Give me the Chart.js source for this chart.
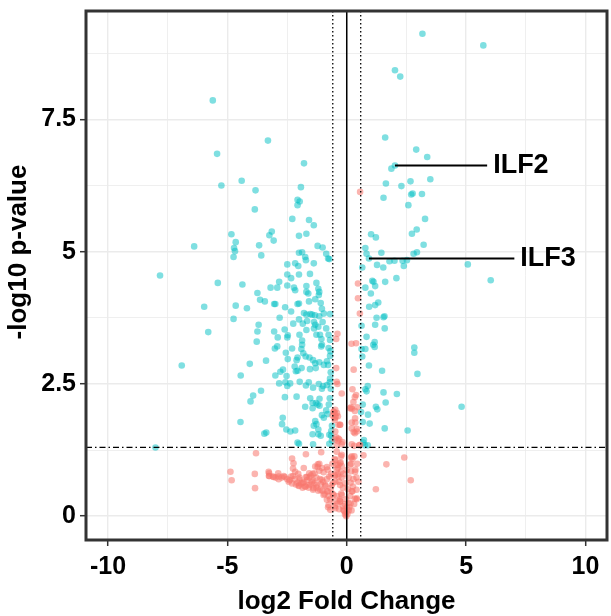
<!DOCTYPE html>
<html>
<head>
<meta charset="utf-8">
<script src="https://cdn.jsdelivr.net/npm/chart.js@4/dist/chart.umd.min.js"></script>
<style>
  html, body { margin: 0; padding: 0; background: #fff; }
  canvas { display: block; }
</style>
</head>
<body>
<canvas id="volcano" width="611" height="616"></canvas>
<script>
// significant points (log2 fold change, -log10 p-value)
const sigPoints = [
  // right side
  [3.17,9.12],[5.72,8.90],[2.02,8.43],[2.24,8.31],[1.61,7.16],[2.91,6.93],[3.37,6.79],[2.02,6.63],[1.87,6.57],
  [3.50,6.37],[1.64,6.29],[2.67,6.33],[2.29,6.24],[2.76,6.10],[2.70,6.08],[3.15,6.09],[1.54,6.02],[2.58,5.88],
  [3.28,5.62],[2.93,5.42],[2.73,5.34],[1.02,5.33],[1.22,5.27],[3.22,5.13],[2.94,4.99],[2.80,4.96],[0.78,5.07],
  [1.45,4.98],[0.83,4.96],[0.93,4.87],[1.79,4.82],[2.00,4.83],[2.34,4.83],[2.52,4.84],[1.27,4.75],[1.53,4.70],
  [0.65,4.70],[2.39,4.73],[5.07,4.76],[6.03,4.46],[2.08,4.50],[1.07,4.45],[1.12,4.43],[1.61,4.43],[0.78,4.32],
  [1.19,4.35],[1.01,4.21],[1.32,4.04],[1.19,3.99],[0.94,3.96],[1.58,3.78],[1.25,3.75],[1.54,3.76],[0.62,3.60],
  [1.19,3.62],[1.59,3.55],[0.83,3.39],[1.17,3.29],[1.11,3.24],[1.17,3.20],[0.62,3.16],[0.78,3.16],[2.83,3.19],
  [2.83,3.09],[0.65,3.02],[0.93,2.85],[1.48,2.75],[2.96,2.69],[0.88,2.46],[0.78,2.40],[0.83,2.36],[1.54,2.34],
  [2.10,2.31],[1.63,2.15],[0.67,2.11],[1.22,2.07],[1.28,2.02],[0.60,1.97],[0.89,1.92],[0.67,1.78],[0.96,1.75],
  [1.59,1.66],[2.55,1.62],[4.81,2.07],[0.72,1.44],[0.76,1.34],[0.88,1.34],[0.69,1.39],
  // left side
  [-5.61,7.86],[-3.30,7.10],[-5.43,6.85],[-1.79,6.67],[-4.40,6.34],[-5.25,6.25],[-1.92,6.22],[-3.82,6.16],
  [-2.06,5.98],[-1.97,5.95],[-2.06,5.88],[-3.85,5.80],[-2.28,5.62],[-1.58,5.60],[-1.38,5.50],[-4.83,5.33],
  [-3.14,5.38],[-3.24,5.31],[-2.00,5.30],[-1.69,5.34],[-4.65,5.18],[-3.06,5.21],[-6.39,5.10],[-3.67,5.12],
  [-1.22,5.11],[-1.01,5.08],[-4.72,5.07],[-4.68,5.01],[-2.00,4.98],[-1.87,4.99],[-0.86,4.96],[-3.58,4.93],
  [-4.74,4.90],[-1.74,4.90],[-1.71,4.84],[-0.78,4.87],[-0.73,4.86],[-2.16,4.78],[-2.49,4.76],[-2.03,4.73],
  [-1.38,4.78],[-7.82,4.55],[-2.49,4.57],[-2.00,4.57],[-1.54,4.58],[-2.33,4.50],[-2.83,4.43],[-5.40,4.41],
  [-4.37,4.38],[-3.19,4.32],[-2.91,4.32],[-2.49,4.36],[-2.21,4.32],[-2.16,4.27],[-1.69,4.35],[-1.27,4.41],
  [-1.19,4.30],[-1.69,4.24],[-1.61,4.21],[-3.74,4.22],[-1.15,4.24],[-1.17,4.18],[-3.63,4.09],[-3.43,4.06],
  [-1.32,4.10],[-1.58,4.06],[-3.04,4.01],[-2.99,4.01],[-2.06,4.01],[-2.00,4.02],[-1.09,4.03],[-5.97,3.96],
  [-4.65,3.98],[-2.58,3.95],[-4.18,3.93],[-1.04,3.92],[-2.33,3.87],[-1.79,3.84],[-1.69,3.81],[-1.53,3.82],
  [-1.45,3.81],[-1.33,3.80],[-1.15,3.78],[-0.96,3.83],[-0.70,3.82],[-2.81,3.75],[-4.74,3.73],[-2.00,3.72],
  [-1.66,3.69],[-1.37,3.67],[-2.24,3.64],[-1.01,3.67],[-3.69,3.62],[-1.84,3.64],[-1.32,3.62],[-1.19,3.58],
  [-0.86,3.55],[-2.60,3.53],[-1.37,3.55],[-3.74,3.49],[-5.80,3.48],[-3.04,3.49],[-2.47,3.42],[-1.98,3.43],
  [-1.69,3.52],[-1.27,3.43],[-1.12,3.43],[-0.76,3.43],[-2.89,3.38],[-2.49,3.38],[-1.06,3.35],[-0.70,3.33],
  [-1.87,3.32],[-3.77,3.30],[-1.04,3.24],[-1.87,3.24],[-1.07,3.21],[-2.29,3.17],[-1.90,3.16],[-2.91,3.21],
  [-3.01,3.17],[-0.76,3.18],[-1.82,3.08],[-0.68,3.12],[-2.55,3.09],[-1.72,3.02],[-2.06,3.00],[-1.56,3.00],
  [-0.70,3.03],[-3.38,2.94],[-2.47,2.97],[-2.10,2.95],[-1.41,2.95],[-0.83,2.93],[-1.32,2.89],[-1.15,2.91],
  [-0.96,2.86],[-1.30,2.80],[-4.06,2.88],[-2.18,2.83],[-1.89,2.80],[-1.54,2.78],[-0.78,2.86],[-2.67,2.77],
  [-2.78,2.73],[-2.06,2.75],[-2.13,2.74],[-0.67,2.72],[-6.91,2.85],[-2.99,2.66],[-4.44,2.66],[-2.52,2.65],
  [-0.70,2.60],[-0.71,2.53],[-2.83,2.51],[-2.57,2.53],[-2.37,2.51],[-1.97,2.54],[-1.59,2.53],[-2.49,2.46],
  [-1.71,2.47],[-1.17,2.50],[-0.99,2.46],[-0.83,2.48],[-1.41,2.43],[-1.04,2.41],[-0.67,2.41],[-3.59,2.37],
  [-3.92,2.28],[-2.10,2.26],[-1.53,2.23],[-0.71,2.23],[-1.14,2.22],[-4.03,2.17],[-1.29,2.14],[-2.59,2.25],
  [-0.75,2.11],[-1.43,2.14],[-1.22,2.11],[-1.14,2.09],[-1.74,2.07],[-1.43,2.04],[-0.86,2.00],[-0.80,1.93],
  [-1.04,1.91],[-2.68,1.86],[-0.96,1.86],[-1.32,1.80],[-4.45,1.78],[-1.27,1.74],[-2.71,1.74],[-1.38,1.71],
  [-0.62,1.71],[-2.53,1.64],[-2.36,1.60],[-2.16,1.62],[-1.19,1.64],[-0.65,1.61],[-3.45,1.56],[-3.37,1.58],
  [-1.43,1.55],[-1.19,1.55],[-1.09,1.52],[-0.73,1.54],[-0.65,1.52],[-2.06,1.39],[-2.00,1.37],[-1.41,1.36],
  [-0.73,1.37],[-0.62,1.43],[-8.01,1.30]
];

// non-significant points
const nsPoints = [
  [0.56,6.13],[0.47,4.40],[0.47,4.12],[0.55,3.83],[-0.39,3.45],[-0.44,3.35],[0.20,3.26],[0.39,3.27],
  [-0.44,2.80],[0.29,2.77],[-0.42,2.54],[-0.39,2.50],[-0.21,2.32],[0.24,2.40],[0.34,2.25],[0.39,2.29],
  [0.28,2.16],[0.18,2.06],[0.44,2.06],[0.21,2.03],[0.34,1.99],[-0.54,1.97],[-0.49,1.94],[-0.41,1.95],
  [-0.59,1.90],[-0.37,1.89],[-0.50,1.86],[-0.50,1.82],[-0.28,1.73],[0.21,1.77],[0.36,1.77],[0.42,1.65],
  [0.29,1.59],[0.34,1.57],[-0.44,1.49],[-0.50,1.45],[-0.31,1.45],[-0.37,1.42],[-0.21,1.36],[-0.18,1.40],
  [-0.41,1.34],[0.52,1.34],[0.31,1.33],[-0.48,1.60],[-0.46,1.88],[-0.48,2.01],[-0.28,1.73],[-0.35,1.47],
  [-0.55,1.98],[-0.35,1.73],[0.14,2.04],[0.35,1.85],[0.21,1.66],[0.42,1.60],[0.21,1.36],[0.56,1.35],
  [-3.80,1.19],[-2.29,1.09],[-1.71,1.17],[-1.07,1.21],[2.41,1.11],[1.66,0.98],[0.18,1.11],[0.24,1.08],
  [0.32,1.13],[-0.26,1.02],[-0.21,0.95],[-1.15,0.99],[-1.04,0.91],[-1.22,0.93],[-0.83,0.93],[-0.44,0.97],
  [-0.37,0.91],[0.18,0.99],[0.18,0.85],[0.44,0.99],[0.28,0.70],[0.41,0.73],[-4.87,0.84],[-4.82,0.68],
  [-3.85,0.80],[-3.84,0.53],[1.22,0.51],[2.68,0.68],[0.70,1.15],[0.21,1.13],[0.14,0.97],[0.35,0.84],
  [0.49,0.65],[0.21,0.47],[0.42,0.34],[0.07,0.25],[-0.35,0.97],[-0.48,0.78],[-0.28,0.59],[-0.55,0.40],
  [-0.28,0.28],[-0.48,0.15],[-0.42,1.22],[-0.21,1.16],[-0.48,1.06],[-0.28,1.00],
  [-3.27,0.84],[-3.24,0.76],[-3.09,0.75],[-2.98,0.73],[-2.85,0.75],[-2.72,0.73],[-2.60,0.74],[-2.49,0.70],
  [-2.39,0.68],[-2.33,0.75],[-2.19,0.70],[-1.98,0.73],[-2.06,0.63],[-2.00,0.58],[-1.84,0.63],[-1.67,0.68],
  [-1.56,0.73],[-1.51,0.60],[-1.74,0.56],[-1.59,0.54],[-1.41,0.68],[-1.35,0.62],[-1.27,0.54],[-1.41,0.50],
  [-1.19,0.48],[-1.02,0.48],[-1.27,0.73],[-1.12,0.70],[-1.09,0.60],[-0.99,0.65],[-0.89,0.57],[-0.83,0.70],
  [-0.93,0.42],[-0.76,0.38],[-0.83,0.47],[-0.67,0.53],[-0.60,0.43],[-0.70,0.32],[-0.54,0.28],[-0.57,0.63],
  [-0.50,0.76],[-0.65,0.80],[-0.73,0.75],[-0.78,0.17],[-0.50,0.19],[-0.39,0.24],[-0.32,0.13],[-0.29,0.32],
  [-0.41,0.38],[-0.23,0.43],[-0.15,0.19],[-0.11,0.10],[-0.05,0.06],[0.03,0.04],[0.08,0.11],[0.11,0.17],
  [0.16,0.24],[0.20,0.11],[0.15,0.38],[0.24,0.47],[0.34,0.33],[0.41,0.32],[0.31,0.23],[0.05,0.51],
  [-0.07,0.62],[-0.21,0.73],[-0.16,0.54],[-0.32,0.65],[-0.37,0.80],[-0.24,0.84],[-0.13,0.80],[0.00,0.87],
  [0.08,0.73],[0.16,0.63],[0.26,0.56],[0.36,0.88],[0.41,0.50],[-0.03,0.32],[-0.08,0.23],[0.00,0.16],
  [-0.02,0.00],[-2.16,0.84],[-1.43,0.80],[-1.71,0.74],[-1.85,0.54],[-2.13,0.60],[-2.29,0.62],[-0.80,0.88],
  [-0.60,0.99],[-0.50,1.08],[-0.24,1.13],
  [-3.25,0.81],[-3.26,0.76],[-2.87,0.81],[-3.07,0.74],[-2.85,0.70],[-2.64,0.76],[-2.43,0.65],[-2.25,0.76],
  [-2.03,0.80],[-2.25,0.90],[-2.23,1.00],[-1.97,0.69],[-1.90,0.62],[-2.01,0.57],[-1.80,0.64],[-1.67,0.74],
  [-1.51,0.77],[-1.46,0.65],[-1.60,0.59],[-1.73,0.56],[-1.32,0.94],[-1.21,0.98],[-1.15,0.86],[-1.35,0.81],
  [-0.97,0.83],[-1.04,0.69],[-1.25,0.59],[-1.39,0.53],[-1.11,0.50],[-0.90,0.59],[-0.97,0.40],[-0.83,0.31],
  [-0.76,0.21],[-0.69,0.12],[-0.79,0.47],[-0.62,0.59],[-0.48,0.65],[-0.35,0.75],[-0.42,0.88],[-0.21,0.40],
  [-0.28,0.28],[-0.14,0.12],[-0.07,0.03],[-1.80,0.91],[-1.57,0.81]
];

// axis ticks
const xGridValues = [-10, -7.5, -5, -2.5, 0, 2.5, 5, 7.5, 10];
const xTickLabels = [-10, -5, 0, 5, 10];
const yGridValues = [0, 1.25, 2.5, 3.75, 5, 6.25, 7.5, 8.75];
const yTickLabels = [0, 2.5, 5, 7.5];

// thresholds
const fcCut = [-0.585, 0.585];
const pCut = 1.301;

// labelled genes
const geneNames = ['ILF2', 'ILF3'];
const genePoints = [[2.02, 6.63], [0.93, 4.87]];
const geneLabelX = [5.88, 7.02];

const FONT = "'Liberation Sans', Arial, sans-serif";

// borde del panel, lineas de corte y etiquetas
const panelPlugin = {
  id: 'panelPlugin',
  afterDatasetsDraw(chart) {
    const ctx = chart.ctx;
    const area = chart.chartArea;
    const xs = chart.scales.x;
    const ys = chart.scales.y;
    ctx.save();
    ctx.strokeStyle = '#000';

    // vertical zero line
    ctx.lineWidth = 1.5;
    ctx.setLineDash([]);
    ctx.beginPath();
    ctx.moveTo(xs.getPixelForValue(0), area.top);
    ctx.lineTo(xs.getPixelForValue(0), area.bottom);
    ctx.stroke();

    // fold change cut-offs
    ctx.lineWidth = 1.3;
    ctx.setLineDash([1.5, 2.5]);
    fcCut.forEach(v => {
      const px = xs.getPixelForValue(v);
      ctx.beginPath();
      ctx.moveTo(px, area.top);
      ctx.lineTo(px, area.bottom);
      ctx.stroke();
    });

    // p-value cut-off
    ctx.setLineDash([6, 3, 1.5, 3]);
    const py = ys.getPixelForValue(pCut);
    ctx.beginPath();
    ctx.moveTo(area.left, py);
    ctx.lineTo(area.right, py);
    ctx.stroke();

    // gene labels
    ctx.setLineDash([]);
    ctx.lineWidth = 2;
    ctx.fillStyle = '#000';
    ctx.font = 'bold 27px ' + FONT;
    ctx.textAlign = 'left';
    ctx.textBaseline = 'middle';
    geneNames.forEach((name, i) => {
      const x0 = xs.getPixelForValue(genePoints[i][0]);
      const y0 = ys.getPixelForValue(genePoints[i][1]);
      const x1 = xs.getPixelForValue(geneLabelX[i]);
      ctx.beginPath();
      ctx.moveTo(x0, y0);
      ctx.lineTo(x1, y0);
      ctx.stroke();
      ctx.fillText(name, x1 + 6, y0);
    });

    // panel border
    ctx.strokeStyle = '#333';
    ctx.lineWidth = 3;
    ctx.strokeRect(area.left, area.top, area.right - area.left, area.bottom - area.top);

    // y axis title
    ctx.translate(19, 252);
    ctx.rotate(-Math.PI / 2);
    ctx.font = 'bold 26px ' + FONT;
    ctx.textAlign = 'center';
    ctx.fillText('-log10 p-value', 0, 0);
    ctx.restore();
  }
};

const isMajor = (list, v) => list.some(t => Math.abs(t - v) < 1e-9);

new Chart(document.getElementById('volcano').getContext('2d'), {
  type: 'scatter',
  data: {
    datasets: [
      {
        label: 'NS',
        data: nsPoints.map(p => ({ x: p[0], y: p[1] })),
        backgroundColor: 'rgba(248, 118, 109, 0.55)',
        pointRadius: 3.3,
        pointBorderWidth: 0
      },
      {
        label: 'Significant',
        data: sigPoints.map(p => ({ x: p[0], y: p[1] })),
        backgroundColor: 'rgba(0, 191, 196, 0.5)',
        pointRadius: 3.3,
        pointBorderWidth: 0
      }
    ]
  },
  options: {
    responsive: false,
    animation: false,
    layout: { padding: { top: 11, right: 1, left: 0, bottom: 0 } },
    plugins: { legend: { display: false }, tooltip: { enabled: false } },
    scales: {
      x: {
        type: 'linear',
        min: -10.92,
        max: 10.9,
        afterFit: s => { s.height = 76; s.paddingLeft = 0; s.paddingRight = 0; },
        afterBuildTicks: s => { s.ticks = xGridValues.map(v => ({ value: v })); },
        border: { display: false },
        grid: {
          color: '#ebebeb',
          lineWidth: c => isMajor(xTickLabels, c.tick.value) ? 1.4 : 0.8,
          tickLength: 6,
          tickWidth: 1.5,
          tickColor: c => isMajor(xTickLabels, c.tick.value) ? '#333' : 'rgba(0,0,0,0)'
        },
        ticks: {
          autoSkip: false,
          maxRotation: 0,
          padding: 6,
          color: '#000',
          font: { family: FONT, size: 25, weight: 'bold' },
          callback: v => isMajor(xTickLabels, v) ? String(v) : ''
        },
        title: {
          display: true,
          text: 'log2 Fold Change',
          color: '#000',
          font: { family: FONT, size: 26, weight: 'bold', lineHeight: 1 },
          padding: { top: 0, bottom: 1 }
        }
      },
      y: {
        type: 'linear',
        min: -0.45,
        max: 9.55,
        afterFit: s => { s.width = 86; s.paddingTop = 0; s.paddingBottom = 0; },
        afterBuildTicks: s => { s.ticks = yGridValues.map(v => ({ value: v })); },
        border: { display: false },
        grid: {
          color: '#ebebeb',
          lineWidth: c => isMajor(yTickLabels, c.tick.value) ? 1.4 : 0.8,
          tickLength: 6,
          tickWidth: 1.5,
          tickColor: c => isMajor(yTickLabels, c.tick.value) ? '#333' : 'rgba(0,0,0,0)'
        },
        ticks: {
          autoSkip: false,
          padding: 4,
          color: '#000',
          font: { family: FONT, size: 25, weight: 'bold' },
          callback: v => isMajor(yTickLabels, v) ? String(v) : ''
        }
      }
    }
  },
  plugins: [panelPlugin]
});
</script>
</body>
</html>
